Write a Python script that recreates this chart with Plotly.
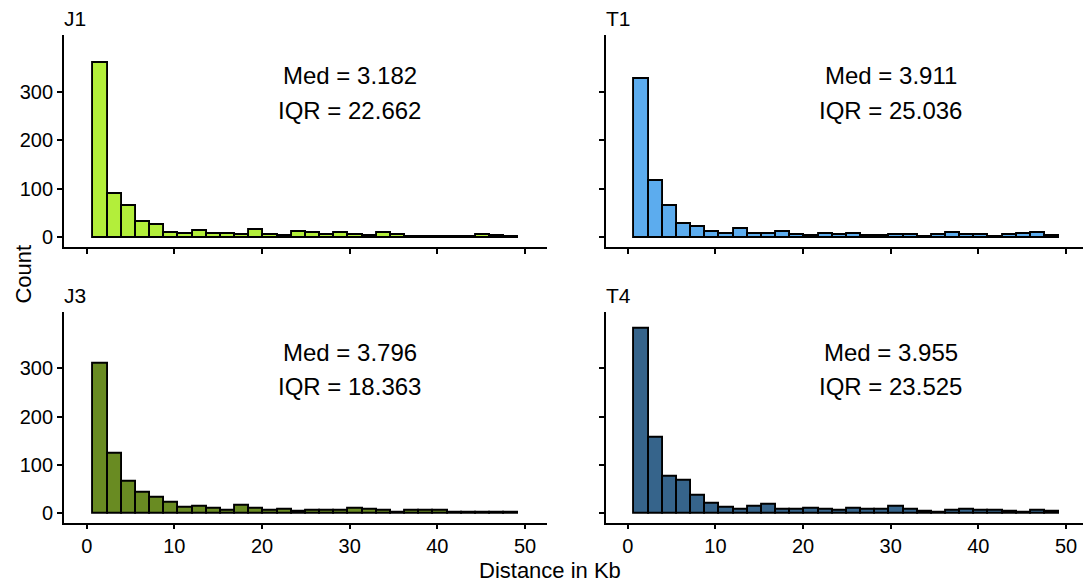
import plotly.graph_objects as go

# ---- data ----
panels = ["J1", "T1", "J3", "T4"]
colors = {"J1": "#B3EE3A", "T1": "#5CACEE", "J3": "#698B22", "T4": "#36648B"}
bin_start = 0.757
bin_width = 1.616
counts_J1 = [360, 89, 66, 32, 26, 10, 8, 14, 8, 8, 5, 16, 5, 3, 12, 9, 5, 9, 5, 3,
             10, 5, 2, 2, 2, 1, 1, 5, 3, 2]
counts_T1 = [327, 116, 65, 29, 21, 12, 7, 18, 7, 7, 12, 5, 3, 7, 5, 7, 3, 3, 5, 5,
             2, 5, 9, 5, 5, 2, 5, 7, 10, 3]
counts_J3 = [309, 124, 66, 43, 32, 22, 12, 13, 10, 5, 15, 9, 5, 8, 3, 6, 5, 6, 9, 8,
             5, 2, 6, 5, 6, 2, 1, 1, 1, 2]
counts_T4 = [383, 157, 76, 67, 37, 19, 12, 8, 14, 17, 8, 8, 9, 8, 6, 10, 7, 8, 14, 7,
             3, 1, 6, 8, 6, 5, 3, 2, 5, 3]
counts = {"J1": counts_J1, "T1": counts_T1, "J3": counts_J3, "T4": counts_T4}
med = {"J1": "3.182", "T1": "3.911", "J3": "3.796", "T4": "3.955"}
iqr = {"J1": "22.662", "T1": "25.036", "J3": "18.363", "T4": "23.525"}
x_ticks = [0, 10, 20, 30, 40, 50]
y_ticks = [0, 100, 200, 300]

W, H = 1083, 587
FONT = "Liberation Sans, Arial, sans-serif"

fig = go.Figure()

# pixel geometry
xdom = [(64 / W, 547.3 / W), (606 / W, 1.0)]
ydom_top = (1 - 247.7 / H, 1 - 35 / H)
ydom_bot = (1 - 524.3 / H, 1 - 312.7 / H)
xranges = [(-2.59, 52.54), (-2.48, 51.94)]
yrange = (-19.3, 417.7)

layout = dict(width=W, height=H, margin=dict(l=0, r=0, t=0, b=0),
              plot_bgcolor="white", paper_bgcolor="white", showlegend=False,
              font=dict(family=FONT, color="black", size=20), bargap=0)

annotations = []
for i, p in enumerate(panels):
    row, col = divmod(i, 2)
    ax = i + 1
    xa = "x" if ax == 1 else f"x{ax}"
    ya = "y" if ax == 1 else f"y{ax}"
    c = counts[p]
    centers = [bin_start + bin_width * (k + 0.5) for k in range(len(c))]
    fig.add_trace(go.Bar(x=centers, y=c, width=bin_width, xaxis=xa, yaxis=ya,
                         marker=dict(color=colors[p], line=dict(color="black", width=1.9)),
                         hoverinfo="x+y"))
    xkey = "xaxis" if ax == 1 else f"xaxis{ax}"
    ykey = "yaxis" if ax == 1 else f"yaxis{ax}"
    layout[xkey] = dict(domain=xdom[col], range=list(xranges[col]), anchor=ya,
                        showgrid=False, zeroline=False, showline=True,
                        linecolor="black", linewidth=1.9, ticks="outside",
                        ticklen=5, tickwidth=1.9, tickcolor="black",
                        tickvals=x_ticks, showticklabels=(row == 1),
                        tickfont=dict(size=20, family=FONT, color="black"))
    layout[ykey] = dict(domain=ydom_top if row == 0 else ydom_bot,
                        range=list(yrange), anchor=xa,
                        showgrid=False, zeroline=False, showline=True,
                        linecolor="black", linewidth=1.9, ticks="outside",
                        ticklen=5, tickwidth=1.9, tickcolor="black",
                        tickvals=y_ticks, showticklabels=(col == 0),
                        tickfont=dict(size=20, family=FONT, color="black"))
    # strip label
    ytop = (ydom_top if row == 0 else ydom_bot)[1]
    annotations.append(dict(text=p, xref="paper", yref="paper",
                            x=xdom[col][0] - 2 / W, y=ytop + 16 / H, xanchor="left",
                            yanchor="middle", showarrow=False,
                            font=dict(size=21, family=FONT, color="black")))
    annotations.append(dict(text=f"Med = {med[p]}", xref=xa, yref=ya, x=30, y=334,
                            showarrow=False, xanchor="center", yanchor="middle",
                            font=dict(size=24, family=FONT, color="black")))
    annotations.append(dict(text=f"IQR = {iqr[p]}", xref=xa, yref=ya, x=30, y=262,
                            showarrow=False, xanchor="center", yanchor="middle",
                            font=dict(size=24, family=FONT, color="black")))

annotations.append(dict(text="Distance in Kb", xref="paper", yref="paper",
                        x=549.5 / W, y=1 - 572 / H, showarrow=False,
                        xanchor="center", yanchor="middle",
                        font=dict(size=22, family=FONT, color="black")))
annotations.append(dict(text="Count", xref="paper", yref="paper",
                        x=23.5 / W, y=1 - 275 / H, showarrow=False, textangle=-90,
                        xanchor="center", yanchor="middle",
                        font=dict(size=22, family=FONT, color="black")))
layout["annotations"] = annotations
fig.update_layout(**layout)
fig.write_html("out.html")
